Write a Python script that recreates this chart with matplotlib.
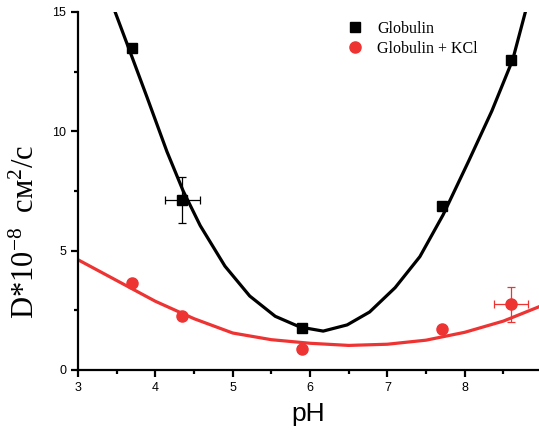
import matplotlib
matplotlib.use('Agg')
import matplotlib.pyplot as plt
from matplotlib.ticker import MultipleLocator

# Data points
ph = [3.7, 4.35, 5.9, 7.7, 8.6]
glob = [13.5, 7.12, 1.76, 6.87, 13.0]
glob_kcl = [3.65, 2.26, 0.88, 1.72, 2.76]

# error bars (only one point each)
glob_err_x = [4.35]
glob_err_y = [7.12]
glob_xerr = [0.23]
glob_yerr = [0.95]
kcl_err_x = [8.6]
kcl_err_y = [2.76]
kcl_xerr = [0.22]
kcl_yerr = [0.73]

# fitted curves
fit_glob_x = [3.48, 3.70, 3.89, 4.15, 4.36, 4.58, 4.90, 5.22, 5.55, 5.87, 6.17, 6.48,
              6.77, 7.10, 7.42, 7.72, 8.05, 8.35, 8.62, 8.80]
fit_glob_y = [15.0, 13.1, 11.45, 9.15, 7.5, 6.05, 4.35, 3.1, 2.25, 1.80, 1.63, 1.89,
              2.43, 3.45, 4.75, 6.5, 8.75, 10.85, 13.0, 15.2]
fit_kcl_x = [3.0, 3.5, 4.0, 4.5, 5.0, 5.5, 6.0, 6.5, 7.0, 7.5, 8.0, 8.5, 8.96]
fit_kcl_y = [4.62, 3.75, 2.88, 2.15, 1.55, 1.27, 1.12, 1.03, 1.08, 1.25, 1.58, 2.05, 2.65]

red = '#EE3333'

plt.rcParams['mathtext.fontset'] = 'custom'
plt.rcParams['mathtext.rm'] = 'Liberation Serif'
plt.rcParams['mathtext.it'] = 'Liberation Serif:italic'

fig = plt.figure(figsize=(5.39, 4.38), dpi=100)
ax = fig.add_axes([78/539, 1 - 370/438, 1 - 78/539, (370 - 12)/438])

ax.plot(fit_glob_x, fit_glob_y, c='black', lw=2.3, zorder=2)
ax.plot(fit_kcl_x, fit_kcl_y, c=red, lw=2.3, zorder=2)
ax.plot(ph, glob, 's', c='black', ms=7, label='Globulin', zorder=3)
ax.plot(ph, glob_kcl, 'o', c=red, ms=8, label='Globulin + KCl', zorder=3)
ax.errorbar(glob_err_x, glob_err_y, xerr=glob_xerr, yerr=glob_yerr, fmt='none',
            ecolor='black', elinewidth=0.9, capsize=3, capthick=0.9, zorder=3)
ax.errorbar(kcl_err_x, kcl_err_y, xerr=kcl_xerr, yerr=kcl_yerr, fmt='none',
            ecolor=red, elinewidth=0.9, capsize=3, capthick=0.9, zorder=3)

ax.set_xlim(3, 8.96)
ax.set_ylim(0, 15)
ax.xaxis.set_major_locator(MultipleLocator(1))
ax.xaxis.set_minor_locator(MultipleLocator(0.5))
ax.yaxis.set_major_locator(MultipleLocator(5))
ax.yaxis.set_minor_locator(MultipleLocator(2.5))
ax.spines['top'].set_visible(False)
ax.spines['right'].set_visible(False)
for s in ['left', 'bottom']:
    ax.spines[s].set_linewidth(1.6)
ax.tick_params(which='major', direction='out', length=5, width=1.6,
               labelsize=9, labelfontfamily='Liberation Sans')
ax.tick_params(which='minor', direction='out', length=3, width=1.6)

ax.set_xlabel('pH', fontsize=19, family='Liberation Sans', labelpad=6)
ax.set_ylabel('D*10$^{-8}$  cм$^{2}$/c', fontsize=22, family='Liberation Serif')
ax.yaxis.set_label_coords(-0.08, 0.385)

leg = ax.legend(loc='upper left', bbox_to_anchor=(0.552, 1.015), frameon=False,
                prop={'family': 'Liberation Serif', 'size': 11.5},
                handletextpad=0.9, labelspacing=0.25, handlelength=1.0)

fig.savefig('out.png', dpi=100)
